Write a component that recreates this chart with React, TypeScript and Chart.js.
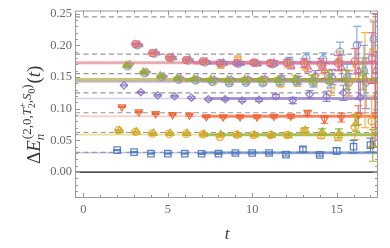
import React, { useEffect, useRef } from 'react';
import { Chart, registerables } from 'chart.js';

Chart.register(...registerables);

const FONT = '"Liberation Serif", "DejaVu Serif", serif';

// ---------- data ----------
const tFrom2 = [2, 3, 4, 5, 6, 7, 8, 9, 10, 11, 12, 13, 14, 15, 16, 17];
const tFrom3 = [3, 4, 5, 6, 7, 8, 9, 10, 11, 12, 13, 14, 15, 16, 17];

const n0Vals = [0.0346, 0.0314, 0.029, 0.029, 0.029, 0.0288, 0.029, 0.03, 0.03, 0.03, 0.0275, 0.0357, 0.027, 0.0335, 0.04, 0.0425];
const n0Errs = [0.0007, 0.0007, 0.0007, 0.0008, 0.0008, 0.0009, 0.001, 0.0012, 0.0014, 0.0016, 0.002, 0.004, 0.002, 0.005, 0.01, 0.011];

const n1aVals = [0.066, 0.0634, 0.0608, 0.0605, 0.0605, 0.0595, 0.0555, 0.059, 0.0585, 0.0585, 0.0585, 0.0645, 0.058, 0.0555, 0.071, 0.08];
const n1aErrs = [0.0008, 0.0008, 0.0009, 0.001, 0.001, 0.0012, 0.0014, 0.0016, 0.002, 0.002, 0.003, 0.004, 0.005, 0.006, 0.02, 0.04];

const n1bVals = [0.0655, 0.063, 0.0612, 0.061, 0.061, 0.06, 0.059, 0.0585, 0.0585, 0.058, 0.0575, 0.066, 0.063, 0.061, 0.0766, 0.042];
const n1bErrs = [0.0008, 0.0008, 0.0009, 0.001, 0.001, 0.0012, 0.0014, 0.0016, 0.002, 0.002, 0.003, 0.004, 0.005, 0.007, 0.012, 0.025];

const n2Vals = [0.1027, 0.0948, 0.092, 0.0907, 0.0896, 0.0872, 0.087, 0.087, 0.087, 0.088, 0.088, 0.0932, 0.083, 0.086, 0.0896, 0.09];
const n2Errs = [0.0008, 0.0009, 0.001, 0.001, 0.0012, 0.0014, 0.0016, 0.0018, 0.002, 0.0025, 0.003, 0.004, 0.006, 0.007, 0.015, 0.05];

const n3Vals = [0.1368, 0.126, 0.121, 0.1195, 0.1174, 0.115, 0.115, 0.113, 0.114, 0.1195, 0.113, 0.1226, 0.1195, 0.125, 0.118, 0.12];
const n3Errs = [0.001, 0.001, 0.0012, 0.0012, 0.0014, 0.0016, 0.002, 0.002, 0.0025, 0.003, 0.005, 0.006, 0.008, 0.012, 0.025, 0.07];

const q1Vals = [0.168, 0.158, 0.152, 0.148, 0.147, 0.1465, 0.1455, 0.146, 0.1455, 0.1455, 0.147, 0.146, 0.15, 0.146, 0.155, 0.15];
const q1Errs = [0.001, 0.001, 0.0012, 0.0014, 0.0016, 0.0018, 0.002, 0.0025, 0.003, 0.004, 0.005, 0.007, 0.01, 0.015, 0.025, 0.04];
const q2Vals = [0.167, 0.156, 0.15, 0.146, 0.145, 0.143, 0.14, 0.141, 0.14, 0.142, 0.143, 0.141, 0.143, 0.15, 0.16, 0.17];
const q2Errs = [0.001, 0.001, 0.0012, 0.0014, 0.0016, 0.0018, 0.002, 0.0025, 0.003, 0.004, 0.005, 0.007, 0.01, 0.02, 0.04, 0.065];
const q3Vals = [0.169, 0.157, 0.15, 0.146, 0.145, 0.142, 0.141, 0.143, 0.142, 0.139, 0.141, 0.144, 0.133, 0.14, 0.145, 0.15];
const q3Errs = [0.001, 0.001, 0.0012, 0.0014, 0.0016, 0.0018, 0.002, 0.0025, 0.003, 0.004, 0.006, 0.008, 0.012, 0.02, 0.075, 0.08];
const q4Vals = [0.17, 0.158, 0.151, 0.148, 0.147, 0.146, 0.146, 0.1465, 0.147, 0.148, 0.145, 0.152, 0.15, 0.14, 0.14, 0.13];
const q4Errs = [0.001, 0.001, 0.0012, 0.0014, 0.0016, 0.0018, 0.002, 0.0025, 0.003, 0.004, 0.006, 0.008, 0.012, 0.02, 0.04, 0.08];

const p1Vals = [0.202, 0.188, 0.181, 0.177, 0.175, 0.172, 0.172, 0.173, 0.172, 0.173, 0.172, 0.17, 0.172, 0.175, 0.18];
const p1Errs = [0.001, 0.0012, 0.0014, 0.0016, 0.0018, 0.002, 0.0025, 0.003, 0.004, 0.005, 0.007, 0.009, 0.012, 0.02, 0.04];
const p2Vals = [0.201, 0.187, 0.18, 0.176, 0.174, 0.168, 0.179, 0.172, 0.171, 0.17, 0.168, 0.165, 0.175, 0.17, 0.19];
const p2Errs = [0.001, 0.0012, 0.0014, 0.0016, 0.0018, 0.002, 0.0025, 0.003, 0.004, 0.005, 0.007, 0.01, 0.015, 0.025, 0.05];
const p3Vals = [0.2, 0.187, 0.18, 0.176, 0.173, 0.171, 0.171, 0.172, 0.17, 0.175, 0.18, 0.178, 0.19, 0.2, 0.21];
const p3Errs = [0.001, 0.0012, 0.0014, 0.0016, 0.0018, 0.002, 0.0025, 0.003, 0.004, 0.006, 0.008, 0.01, 0.015, 0.03, 0.027];
const p4Vals = [0.201, 0.188, 0.181, 0.177, 0.174, 0.172, 0.172, 0.171, 0.172, 0.168, 0.166, 0.16, 0.165, 0.16, 0.16];
const p4Errs = [0.001, 0.0012, 0.0014, 0.0016, 0.0018, 0.002, 0.0025, 0.003, 0.004, 0.005, 0.008, 0.012, 0.02, 0.045, 0.09];

// non-interacting levels (dashed)
const levelLines = [0.0312, 0.0624, 0.0936, 0.1248, 0.1555, 0.186, 0.245];

// fitted energies (bands)
const fitEnergies = [0.0304, 0.059, 0.088, 0.116, 0.1425, 0.1457, 0.1725];
const fitStarts = [7, 7, 7, 7.5, 7, 6, 6.5];

const xMajorTicks = [0, 5, 10, 15];
const yMajorTicks = [0, 0.05, 0.1, 0.15, 0.2, 0.25];

const X_MIN = -0.5, X_MAX = 17.45, Y_MIN = -0.041, Y_MAX = 0.255;

// ---------- styling ----------
const series = [
  { t: tFrom2, v: n0Vals, e: n0Errs, off: 0.0, color: 'rgba(79,120,189,0.9)', style: 'rect', rot: 0, r: 4.5 },
  { t: tFrom2, v: n1aVals, e: n1aErrs, off: 0.08, color: 'rgba(240,165,40,0.9)', style: 'circle', rot: 0, r: 3.6 },
  { t: tFrom2, v: n1bVals, e: n1bErrs, off: 0.14, color: 'rgba(140,180,45,0.9)', style: 'triangle', rot: 0, r: 4 },
  { t: tFrom2, v: n2Vals, e: n2Errs, off: 0.28, color: 'rgba(242,95,50,0.9)', style: 'triangle', rot: 180, r: 4 },
  { t: tFrom2, v: n3Vals, e: n3Errs, off: 0.4, color: 'rgba(140,120,195,0.9)', style: 'rectRot', rot: 0, r: 3.6 },
  { t: tFrom2, v: q1Vals, e: q1Errs, off: 0.55, color: 'rgba(150,170,40,0.85)', style: 'triangle', rot: 0, r: 4 },
  { t: tFrom2, v: q2Vals, e: q2Errs, off: 0.62, color: 'rgba(110,165,220,0.85)', style: 'circle', rot: 0, r: 3.6 },
  { t: tFrom2, v: q3Vals, e: q3Errs, off: 0.68, color: 'rgba(245,170,45,0.85)', style: 'circle', rot: 0, r: 3.6 },
  { t: tFrom2, v: q4Vals, e: q4Errs, off: 0.74, color: 'rgba(165,115,200,0.85)', style: 'rectRot', rot: 0, r: 3.6 },
  { t: tFrom3, v: p1Vals, e: p1Errs, off: 0.08, color: 'rgba(215,100,155,0.85)', style: 'circle', rot: 0, r: 3.6 },
  { t: tFrom3, v: p2Vals, e: p2Errs, off: 0.14, color: 'rgba(245,160,45,0.85)', style: 'rect', rot: 0, r: 4 },
  { t: tFrom3, v: p3Vals, e: p3Errs, off: 0.2, color: 'rgba(110,160,220,0.85)', style: 'circle', rot: 0, r: 3.6 },
  { t: tFrom3, v: p4Vals, e: p4Errs, off: 0.3, color: 'rgba(200,90,160,0.85)', style: 'triangle', rot: 0, r: 4 },
];

const fitThin = ['rgba(79,120,189,0.35)', 'rgba(215,205,90,0.6)', 'rgba(245,130,120,0.45)', 'rgba(160,145,210,0.45)', 'rgba(160,150,200,0.6)', 'rgba(185,175,75,0.75)', 'rgba(225,125,130,0.65)'];
const fitThick = ['rgba(79,120,189,0.55)', 'rgba(140,180,45,0.75)', 'rgba(242,95,50,0.7)', 'rgba(140,120,195,0.7)', 'rgba(160,150,200,0.6)', 'rgba(150,160,30,0.7)', 'rgba(210,100,140,0.55)'];
const fitThinW = [1.5, 1.8, 1.5, 1.5, 2, 3.5, 3];
const fitThickW = [3, 3, 3, 3, 2, 3.5, 4];

const errorBarPlugin = {
  id: 'errbars',
  afterDatasetDraw(chart: any, args: any) {
    const ds = chart.data.datasets[args.index];
    if (!ds.errs) return;
    const { ctx, chartArea: ca } = chart;
    const ys = chart.scales.y;
    ctx.save();
    ctx.beginPath();
    ctx.rect(ca.left, ca.top, ca.right - ca.left, ca.bottom - ca.top);
    ctx.clip();
    ctx.strokeStyle = ds.borderColor;
    ctx.lineWidth = 1.2;
    args.meta.data.forEach((pt: any, i: number) => {
      const d = ds.data[i];
      const e = ds.errs[i];
      const y1 = ys.getPixelForValue(d.y + e);
      const y2 = ys.getPixelForValue(d.y - e);
      ctx.beginPath();
      ctx.moveTo(pt.x, y1); ctx.lineTo(pt.x, y2);
      ctx.moveTo(pt.x - 4, y1); ctx.lineTo(pt.x + 4, y1);
      ctx.moveTo(pt.x - 4, y2); ctx.lineTo(pt.x + 4, y2);
      ctx.stroke();
    });
    ctx.restore();
  },
};

const framePlugin = {
  id: 'frame',
  afterDatasetsDraw(chart: any) {
    const { ctx, chartArea: ca } = chart;
    const xs = chart.scales.x, ys = chart.scales.y;
    ctx.save();
    ctx.strokeStyle = '#9a9a9a';
    ctx.lineWidth = 1;
    ctx.strokeRect(ca.left + 0.5, ca.top + 0.5, ca.right - ca.left - 1, ca.bottom - ca.top - 1);
    ctx.beginPath();
    for (let v = 0; v <= 17; v++) {
      const px = Math.round(xs.getPixelForValue(v)) + 0.5;
      const len = xMajorTicks.includes(v) ? 5 : 3;
      ctx.moveTo(px, ca.bottom); ctx.lineTo(px, ca.bottom - len);
      ctx.moveTo(px, ca.top); ctx.lineTo(px, ca.top + len);
    }
    for (let k = -4; k <= 25; k++) {
      const v = k / 100;
      const py = Math.round(ys.getPixelForValue(v)) + 0.5;
      const len = k % 5 === 0 ? 5 : 3;
      ctx.moveTo(ca.left, py); ctx.lineTo(ca.left + len, py);
      ctx.moveTo(ca.right, py); ctx.lineTo(ca.right - len, py);
    }
    ctx.stroke();
    ctx.restore();
  },
};

const titlePlugin = {
  id: 'titles',
  afterDraw(chart: any) {
    const ctx = chart.ctx;
    ctx.save();
    ctx.fillStyle = '#3a3a3a';
    ctx.textBaseline = 'alphabetic';
    ctx.textAlign = 'center';
    ctx.font = `italic 17px ${FONT}`;
    ctx.fillText('t', 227, 239);

    ctx.translate(40, 164);
    ctx.rotate(-Math.PI / 2);
    ctx.textAlign = 'left';
    let x = 0;
    const put = (s: string, size: number, italic: boolean, dy: number) => {
      ctx.font = `${italic ? 'italic ' : ''}${size}px ${FONT}`;
      ctx.fillText(s, x, dy);
      x += ctx.measureText(s).width;
    };
    const big = 19, sm = 13, tiny = 9.5;
    put('Δ', big, false, 0);
    put('E', big, true, 0);
    const x0 = x;
    put('n', sm, true, 4);
    x = x0 + 1;
    put('(2,0,', sm, false, -9);
    put('T', sm, true, -9);
    const x1 = x;
    put('+', tiny, false, -14);
    x = x1;
    put('2', tiny, false, -5.5);
    put(',', sm, false, -9);
    put('S', sm, true, -9);
    put('0', tiny, false, -5.5);
    put(')', sm, false, -9);
    x += 1;
    put('(', big, false, 0);
    put('t', big, true, 0);
    put(')', big, false, 0);
    ctx.restore();
  },
};

export default function App() {
  const ref = useRef<HTMLCanvasElement | null>(null);

  useEffect(() => {
    document.body.style.margin = '0';
    const canvas = ref.current!;
    const datasets: any[] = [];

    series.forEach((s, k) => {
      datasets.push({
        label: 's' + k,
        data: s.t.map((t, i) => ({ x: t + s.off, y: s.v[i] })),
        errs: s.e,
        showLine: false,
        pointStyle: s.style,
        pointRotation: s.rot,
        pointRadius: s.r,
        pointBorderWidth: 1.3,
        borderColor: s.color,
        backgroundColor: 'rgba(255,255,255,0)',
        order: 0,
      });
    });

    fitEnergies.forEach((E, k) => {
      datasets.push({
        label: 'fitthick' + k,
        data: [{ x: fitStarts[k], y: E }, { x: X_MAX, y: E }],
        showLine: true,
        borderColor: fitThick[k],
        borderWidth: fitThickW[k],
        pointRadius: 0,
        order: 1,
      });
      datasets.push({
        label: 'fitthin' + k,
        data: [{ x: X_MIN, y: E }, { x: X_MAX, y: E }],
        showLine: true,
        borderColor: fitThin[k],
        borderWidth: fitThinW[k],
        pointRadius: 0,
        order: 2,
      });
    });

    levelLines.forEach((E, k) => {
      datasets.push({
        label: 'lvl' + k,
        data: [{ x: X_MIN, y: E }, { x: X_MAX, y: E }],
        showLine: true,
        borderColor: 'rgba(140,140,140,0.9)',
        borderWidth: 1.2,
        borderDash: [5, 3.5],
        pointRadius: 0,
        order: 3,
      });
    });

    datasets.push({
      label: 'zero',
      data: [{ x: X_MIN, y: 0 }, { x: X_MAX, y: 0 }],
      showLine: true,
      borderColor: '#111',
      borderWidth: 1.3,
      pointRadius: 0,
      order: 1,
    });

    const chart = new Chart(canvas, {
      type: 'scatter',
      data: { datasets },
      options: {
        responsive: false,
        animation: false,
        devicePixelRatio: 1,
        layout: { padding: { left: 0, top: 10, right: 12, bottom: 0 } },
        plugins: { legend: { display: false }, tooltip: { enabled: false } },
        scales: {
          x: {
            type: 'linear',
            min: X_MIN,
            max: X_MAX,
            grid: { display: false, drawTicks: false },
            border: { display: false },
            afterFit: (s: any) => { s.height = 50; },
            ticks: {
              stepSize: 5,
              includeBounds: false,
              padding: 4,
              color: '#6a6a6a',
              font: { family: FONT, size: 12.5 },
              maxRotation: 0,
              callback: (v: any) => (xMajorTicks.includes(Number(v)) ? String(v) : ''),
            },
          },
          y: {
            type: 'linear',
            min: Y_MIN,
            max: Y_MAX,
            grid: { display: false, drawTicks: false },
            border: { display: false },
            afterFit: (s: any) => { s.width = 75; },
            ticks: {
              stepSize: 0.05,
              includeBounds: false,
              padding: 3,
              color: '#6a6a6a',
              font: { family: FONT, size: 12.5 },
              callback: (v: any) => {
                const n = Number(v);
                return yMajorTicks.some((m) => Math.abs(m - n) < 1e-6) ? n.toFixed(2) : '';
              },
            },
          },
        },
      } as any,
      plugins: [errorBarPlugin, framePlugin, titlePlugin],
    });

    return () => chart.destroy();
  }, []);

  return <canvas ref={ref} width={390} height={248} style={{ display: 'block' }} />;
}
